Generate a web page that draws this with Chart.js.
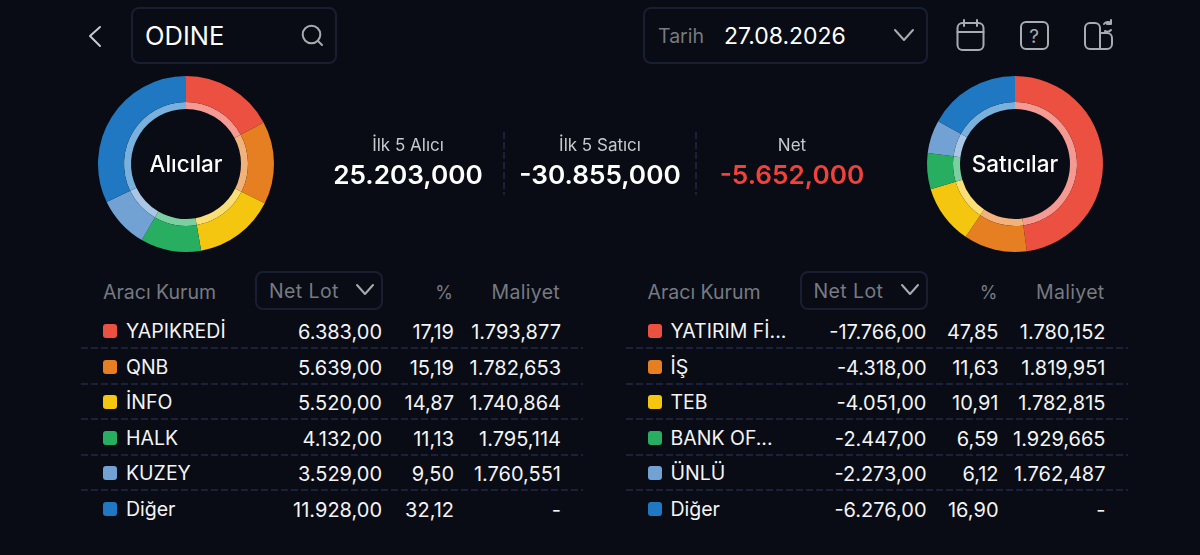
<!DOCTYPE html>
<html>
<head>
<meta charset="utf-8">
<script src="https://cdn.jsdelivr.net/npm/chart.js@4/dist/chart.umd.min.js"></script>
<style>
html, body { margin: 0; padding: 0; background: #090c14; }
#page { position: relative; width: 1200px; height: 555px; overflow: hidden; background: #090c14; color: #fff; font-family: Inter, "Noto Sans", sans-serif; }
#page div, #page canvas, #page svg { position: absolute; }
.t { white-space: nowrap; line-height: 1; transform: translateY(-50%); }
.r { transform: translate(-100%, -50%); }
.c { transform: translate(-50%, -50%); }
.box { border: 2px solid #1a1e33; border-radius: 8px; box-sizing: border-box; }
.sep { height: 2px; background: repeating-linear-gradient(90deg, #1c2039 0 7px, transparent 7px 10px); }
.vsep { width: 2px; background: repeating-linear-gradient(180deg, #1c2039 0 7px, transparent 7px 10px); }
.sw { width: 14px; height: 14px; border-radius: 3px; }
svg { fill: none; stroke-linecap: round; stroke-linejoin: round; }
</style>
</head>
<body>
<div id="page"></div>
<script>
// Chart data
const sliceColors = ['#ec5040', '#e67e22', '#f5c60f', '#27ae60', '#72a1d3', '#1f78c1'];
const ringColors = ['#f59a92', '#f1b27c', '#fbdf76', '#7ccfa0', '#a9c6e4', '#79b0dc'];

const buyers = ['YAPIKREDİ', 'QNB', 'İNFO', 'HALK', 'KUZEY', 'Diğer'];
const buyerLots = [6383, 5639, 5520, 4132, 3529, 11928];
const buyerLotLabels = ['6.383,00', '5.639,00', '5.520,00', '4.132,00', '3.529,00', '11.928,00'];
const buyerPercents = ['17,19', '15,19', '14,87', '11,13', '9,50', '32,12'];
const buyerCosts = ['1.793,877', '1.782,653', '1.740,864', '1.795,114', '1.760,551', '-'];

const sellers = ['YATIRIM Fİ...', 'İŞ', 'TEB', 'BANK OF...', 'ÜNLÜ', 'Diğer'];
const sellerLots = [17766, 4318, 4051, 2447, 2273, 6276];
const sellerLotLabels = ['-17.766,00', '-4.318,00', '-4.051,00', '-2.447,00', '-2.273,00', '-6.276,00'];
const sellerPercents = ['47,85', '11,63', '10,91', '6,59', '6,12', '16,90'];
const sellerCosts = ['1.780,152', '1.819,951', '1.782,815', '1.929,665', '1.762,487', '-'];

const page = document.getElementById('page');

function text(str, x, y, size, color, align, weight) {
    const el = document.createElement('div');
    el.className = 't' + (align ? ' ' + align : '');
    el.textContent = str;
    el.style.left = x + 'px';
    el.style.top = y + 'px';
    el.style.fontSize = size + 'px';
    el.style.color = color;
    if (weight) el.style.fontWeight = weight;
    page.appendChild(el);
    return el;
}

function box(x, y, w, h) {
    const el = document.createElement('div');
    el.className = 'box';
    el.style.cssText = `left:${x}px;top:${y}px;width:${w}px;height:${h}px`;
    page.appendChild(el);
}

function icon(x, y, w, h, color, width, body) {
    const wrap = document.createElement('div');
    wrap.innerHTML = `<svg style="left:${x}px;top:${y}px" width="${w}" height="${h}" viewBox="0 0 ${w} ${h}" stroke="${color}" stroke-width="${width}">${body}</svg>`;
    page.appendChild(wrap);
}

function donut(values, centerX, label) {
    const holder = document.createElement('div');
    holder.style.cssText = `left:${centerX - 100}px;top:64px;width:200px;height:200px`;
    const canvas = document.createElement('canvas');
    holder.appendChild(canvas);
    page.appendChild(holder);
    new Chart(canvas.getContext('2d'), {
        type: 'doughnut',
        data: {
            labels: label === 'Alıcılar' ? buyers : sellers,
            datasets: [
                { data: values, backgroundColor: sliceColors, borderWidth: 0, weight: 26 },
                { data: values, backgroundColor: ringColors, borderWidth: 0, weight: 7 }
            ]
        },
        options: {
            responsive: true,
            maintainAspectRatio: false,
            animation: false,
            cutout: '62.5%',
            radius: 88,
            plugins: { legend: { display: false }, tooltip: { enabled: false } }
        }
    });
    text(label, centerX, 164, 22.5, '#fff', 'c', 500);
}

function table(offset, names, lots, percents, costs) {
    text('Aracı Kurum', 103 + offset, 293, 19.5, '#777a82');
    box(255 + offset, 271, 128, 39);
    text('Net Lot', 269 + offset, 291.5, 19.5, '#777a82').style.letterSpacing = '0.4px';
    icon(355 + offset, 283, 20, 14, '#a9abb0', 2, '<path d="M2 2 L10 11 L18 2"/>');
    text('%', 453 + offset, 293, 18, '#777a82', 'r');
    text('Maliyet', 560 + offset, 293, 19.5, '#777a82', 'r').style.letterSpacing = '0.3px';

    const rowY = [332, 368, 403, 439, 474, 510];
    names.forEach((name, i) => {
        const sw = document.createElement('div');
        sw.className = 'sw';
        sw.style.cssText = `left:${103 + offset}px;top:${rowY[i] - 8}px;background:${sliceColors[i]}`;
        page.appendChild(sw);
        text(name, 126 + offset, rowY[i], 19.5, '#f4f4f6');
        text(lots[i], 382 + offset, rowY[i], 20, '#f4f4f6', 'r');
        text(percents[i], 454 + offset, rowY[i], 20, '#f4f4f6', 'r');
        text(costs[i], 561 + offset, rowY[i], 20, '#f4f4f6', 'r');
        if (i < 5) {
            const sep = document.createElement('div');
            sep.className = 'sep';
            sep.style.cssText = `left:${81 + offset}px;top:${rowY[i] + 15}px;width:502px`;
            page.appendChild(sep);
        }
    });
}

// Top bar
const iconGrey = '#a9abb0';
icon(86, 24, 20, 24, '#c8c9cd', 2, '<path d="M14 3 L4 12 L14 22"/>');
box(131, 7, 206, 57);
text('ODINE', 145, 36, 25.5, '#fff');
icon(299, 22, 28, 28, iconGrey, 2, '<circle cx="12.5" cy="12.5" r="8.8"/><path d="M19 19 L23 23"/>');
box(643, 7, 285, 57);
text('Tarih', 658, 37, 19.5, '#777a82');
text('27.08.2026', 724, 36, 23, '#fff');
icon(892, 28, 24, 16, iconGrey, 2, '<path d="M3 2 L12 12 L21 2"/>');
icon(955, 18, 32, 34, iconGrey, 2, '<rect x="2.5" y="5" width="26" height="27" rx="5"/><path d="M2.5 14 H28.5 M9 2 V8 M22 2 V8"/>');
icon(1019, 19, 32, 32, iconGrey, 2, '<rect x="2" y="3" width="27" height="27" rx="5"/>');
text('?', 1034, 36, 19, iconGrey, 'c');
icon(1083, 18, 34, 34, iconGrey, 2, '<path d="M17 15 V31 H7 A5 5 0 0 1 2 26 V10 A5 5 0 0 1 7 5 H12 A5 5 0 0 1 17 10 V15 H24 A5 5 0 0 1 29 20 V26 A5 5 0 0 1 24 31 H17"/><path d="M21 6 A5 5 0 0 1 28 5 M28 2 V6 H24 M28 12 A5 5 0 0 1 22 13"/>');

// Donuts
donut(buyerLots, 186, 'Alıcılar');
donut(sellerLots, 1015, 'Satıcılar');

// Summary
text('İlk 5 Alıcı', 408, 144.5, 17, '#c8c9cd', 'c');
text('25.203,000', 408, 175, 26.2, '#fff', 'c', 600);
text('İlk 5 Satıcı', 600, 144.5, 17, '#c8c9cd', 'c');
text('-30.855,000', 600, 175, 26.2, '#fff', 'c', 600);
text('Net', 792, 144.5, 17, '#c8c9cd', 'c');
text('-5.652,000', 792, 175, 26.2, '#f0413a', 'c', 600);
[503, 695].forEach(x => {
    const line = document.createElement('div');
    line.className = 'vsep';
    line.style.cssText = `left:${x}px;top:132px;height:63px`;
    page.appendChild(line);
});

// Tables
table(0, buyers, buyerLotLabels, buyerPercents, buyerCosts);
table(544.5, sellers, sellerLotLabels, sellerPercents, sellerCosts);
</script>
</body>
</html>
